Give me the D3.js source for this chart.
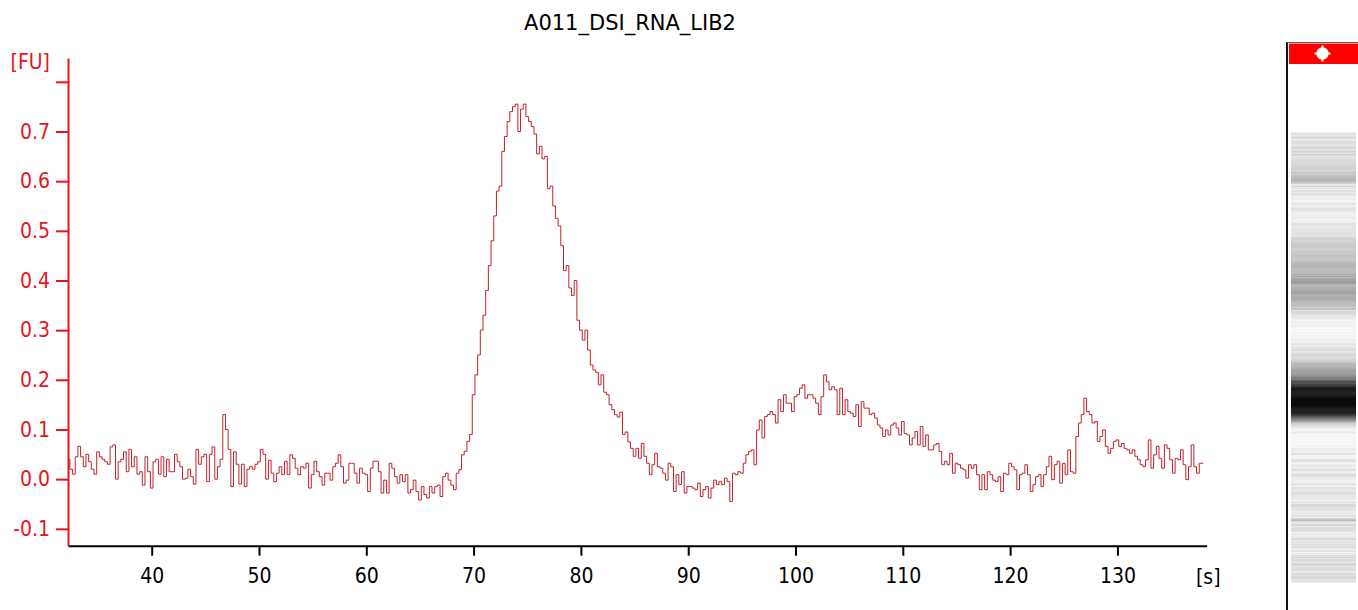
<!DOCTYPE html>
<html><head><meta charset="utf-8">
<script src="https://cdn.jsdelivr.net/npm/d3@7"></script>
<style>
html,body{margin:0;padding:0;background:#fff;}
svg{display:block;}
text{font-family:"DejaVu Sans Condensed","DejaVu Sans",sans-serif;font-stretch:condensed;}
text.title{font-family:"DejaVu Sans",sans-serif;font-stretch:normal;}
</style></head><body>
<svg id="c" width="1358" height="610"></svg>
<script>
const title = "A011_DSI_RNA_LIB2";
const yUnit = "[FU]";
const xUnit = "[s]";
const xTicks = [40, 50, 60, 70, 80, 90, 100, 110, 120, 130];
const yTicks = [-0.1, 0.0, 0.1, 0.2, 0.3, 0.4, 0.5, 0.6, 0.7, 0.8];
const yTickLabels = ["-0.1", "0.0", "0.1", "0.2", "0.3", "0.4", "0.5", "0.6", "0.7", ""];
const xDomain = [32.2, 138.32];
const yDomain = [-0.134, 0.848];
// sampling grid of the trace (seconds)
const tStart = 32.25, tStep = 0.25;
// fluorescence values [FU], one per sample
const fu = [
0.040,0.020,0.010,0.045, 0.066,0.045,0.025,0.050, 0.035,0.020,0.010,0.055, 0.045,0.040,0.035,0.030,
0.065,0.069,0.000,0.035, 0.040,0.055,0.015,0.060, 0.025,0.045,0.010,0.015, -0.012,0.045,0.015,-0.018,
0.035,0.040,0.010,0.045, 0.005,0.040,0.015,0.015, 0.050,0.035,0.025,0.000, 0.002,0.020,0.005,-0.010,
0.060,0.030,0.045,0.050, -0.005,0.050,0.065,0.000, 0.025,0.040,0.130,0.100, 0.060,-0.015,0.055,0.030,
-0.010,0.030,-0.015,0.020, 0.025,0.020,0.030,0.035, 0.060,0.050,0.000,0.038, 0.012,-0.005,0.012,0.025,
0.009,0.036,0.009,0.049, 0.042,0.022,0.009,0.025, 0.022,0.032,-0.018,0.009, 0.036,0.015,0.005,-0.012,
0.012,0.012,-0.002,0.025, 0.032,0.049,0.025,-0.008, -0.002,0.032,0.032,0.012, -0.008,0.022,0.012,0.009,
-0.025,0.022,0.036,0.036, 0.015,-0.028,-0.002,-0.028, 0.032,0.022,0.005,-0.008, 0.009,-0.005,0.009,-0.028,
-0.021,-0.002,-0.025,-0.042, -0.015,-0.031,-0.038,-0.015, -0.028,-0.015,-0.012,-0.035, 0.005,0.012,-0.002,-0.012,
-0.021,0.012,0.019,0.049, 0.056,0.076,0.090,0.170, 0.210,0.250,0.300,0.330, 0.380,0.430,0.480,0.530,
0.580,0.590,0.660,0.690, 0.720,0.740,0.750,0.755, 0.700,0.745,0.755,0.730, 0.720,0.710,0.695,0.655,
0.670,0.645,0.650,0.585, 0.590,0.550,0.525,0.510, 0.470,0.420,0.430,0.385, 0.370,0.400,0.320,0.300,
0.280,0.300,0.260,0.230, 0.220,0.215,0.190,0.210, 0.175,0.170,0.150,0.140, 0.130,0.125,0.135,0.090,
0.095,0.075,0.062,0.046, 0.062,0.042,0.072,0.046, 0.032,0.009,0.029,0.052, 0.025,0.022,0.012,-0.002,
0.032,0.025,-0.025,0.009, -0.011,0.015,-0.028,-0.015, -0.015,-0.018,-0.021,-0.008, -0.035,-0.021,-0.015,-0.038,
-0.018,-0.002,-0.011,-0.005, -0.011,0.002,-0.005,-0.045, 0.012,0.009,0.015,0.012, 0.032,0.049,0.056,0.059,
0.029,0.099,0.119,0.083, 0.126,0.130,0.136,0.130, 0.113,0.160,0.136,0.170, 0.153,0.153,0.136,0.166,
0.170,0.183,0.190,0.163, 0.170,0.170,0.163,0.153, 0.130,0.166,0.210,0.196, 0.180,0.186,0.180,0.130,
0.183,0.130,0.160,0.136, 0.133,0.126,0.150,0.106, 0.156,0.143,0.143,0.130, 0.133,0.123,0.109,0.103,
0.086,0.099,0.089,0.109, 0.113,0.103,0.089,0.116, 0.092,0.089,0.069,0.083, 0.096,0.069,0.106,0.066,
0.089,0.059,0.059,0.069, 0.072,0.056,0.029,0.036, 0.029,0.052,0.012,0.032, 0.029,0.022,0.019,0.002,
0.029,0.022,0.029,0.009, -0.021,0.009,-0.021,0.015, 0.009,-0.002,-0.005,0.005, -0.025,0.012,0.009,0.032,
0.025,0.019,-0.021,0.009, 0.012,0.029,0.009,-0.025, -0.011,0.005,0.009,-0.015, 0.009,0.025,0.046,-0.001,
0.029,0.036,-0.008,0.032, 0.009,0.059,0.015,0.012, 0.086,0.113,0.130,0.163, 0.136,0.130,0.113,0.116,
0.076,0.086,0.099,0.066, 0.052,0.062,0.076,0.079, 0.066,0.072,0.062,0.059, 0.052,0.059,0.046,0.039,
0.029,0.025,0.039,0.079, 0.022,0.049,0.066,0.042, 0.022,0.069,0.062,0.039, 0.012,0.042,0.039,0.059,
0.029,-0.001,0.025,0.069, 0.025,0.012,0.032,0.032
];

const data = fu.map((v, i) => ({t: tStart + i * tStep, v}));

const svg = d3.select("#c");
const axisRed = "#e8141c";
const traceColor = "#c0222a";
const fs = 21;

const x = d3.scaleLinear().domain(xDomain).range([68, 1206.7]);
const y = d3.scaleLinear().domain(yDomain).range([545.7, 58]);

// title
svg.append("text").attr("class", "title").attr("x", 630).attr("y", 30).attr("text-anchor", "middle")
  .attr("font-size", fs).attr("fill", "#000").text(title);

// trace
svg.append("path").datum(data)
  .attr("fill", "none").attr("stroke", traceColor).attr("stroke-width", 1)
  .attr("d", d3.line().x(d => x(d.t)).y(d => y(d.v)).curve(d3.curveStep));

// x axis
const gx = svg.append("g").attr("transform", "translate(0,545.7)")
  .call(d3.axisBottom(x).tickValues(xTicks).tickSize(10).tickSizeOuter(0).tickPadding(12).tickFormat(d3.format("d")));
gx.select(".domain").attr("stroke", "#000").attr("stroke-width", 2);
gx.selectAll(".tick line").attr("stroke", "#000").attr("stroke-width", 2);
gx.selectAll(".tick text").attr("font-size", fs).attr("fill", "#000").attr("font-family", null);

// y axis
const gy = svg.append("g").attr("transform", "translate(68,0)")
  .call(d3.axisLeft(y).tickValues(yTicks).tickSize(12).tickSizeOuter(0).tickPadding(6)
    .tickFormat((d, i) => yTickLabels[i]));
gy.select(".domain").attr("stroke", axisRed).attr("stroke-width", 2);
gy.selectAll(".tick line").attr("stroke", axisRed).attr("stroke-width", 2);
gy.selectAll(".tick text").attr("font-size", fs).attr("fill", axisRed).attr("font-family", null);

// unit labels
svg.append("text").attr("x", 50).attr("y", 69).attr("text-anchor", "end")
  .attr("font-size", fs).attr("fill", axisRed).text(yUnit);
svg.append("text").attr("x", 1196).attr("y", 584).attr("text-anchor", "start")
  .attr("font-size", fs).attr("fill", "#000").text(xUnit);

// gel lane
const gelY = d3.scaleLinear().domain(xDomain).range([581.7, 131.7]);
const gray = d3.scaleLinear().domain([-0.03, 0.55]).range([250, 12]).clamp(true);
const gel = svg.append("g");
gel.selectAll("rect").data(data).join("rect")
  .attr("x", 1291).attr("width", 65)
  .attr("y", d => gelY(d.t + tStep / 2))
  .attr("height", d => gelY(d.t - tStep / 2) - gelY(d.t + tStep / 2) + 0.4)
  .attr("fill", d => { const g = Math.round(gray(d.v)); return `rgb(${g},${g},${g})`; });

svg.append("line").attr("x1", 1287).attr("x2", 1287).attr("y1", 42).attr("y2", 610)
  .attr("stroke", "#111").attr("stroke-width", 2);
svg.append("line").attr("x1", 1287).attr("x2", 1358).attr("y1", 42.5).attr("y2", 42.5)
  .attr("stroke", "#666").attr("stroke-width", 1);
svg.append("rect").attr("x", 1289).attr("y", 43.5).attr("width", 69).attr("height", 20.5).attr("fill", "#ff0000");
const mk = svg.append("g").attr("fill", "#fff");
mk.append("circle").attr("cx", 1322.5).attr("cy", 53.5).attr("r", 6.2);
mk.append("rect").attr("x", 1321.5).attr("y", 45.5).attr("width", 2).attr("height", 16);
mk.append("rect").attr("x", 1314.5).attr("y", 52.5).attr("width", 16).attr("height", 2);
</script>
</body></html>
